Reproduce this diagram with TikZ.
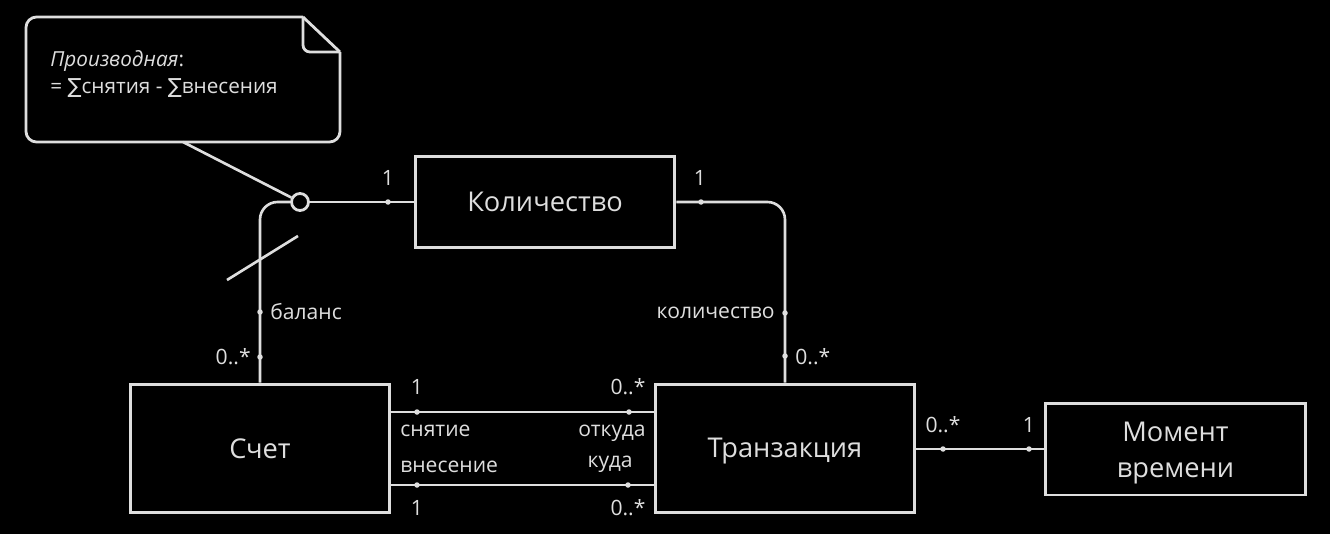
\documentclass[tikz,border=0pt]{standalone}
\usepackage{fontspec}
\setmainfont{Open Sans}
\newfontfamily\sumfont{DejaVu Sans}
\usetikzlibrary{positioning}

\definecolor{ink}{HTML}{DEDEDE}

\begin{document}
\begin{tikzpicture}[x=0.02cm, y=-0.02cm,
        cls/.style={draw=ink, line width=1.7pt, fill=black, text=ink, minimum width=5.2cm, align=center, font=\fontsize{15.5}{20.5}\selectfont},
        link/.style={draw=ink, line width=1.5pt},
        lbl/.style={text=ink, inner sep=0pt, font=\fontsize{12}{14}\selectfont}]
        % Background
        \fill[black] (0,0) rectangle (1330,534);
        \useasboundingbox (0,0) rectangle (1330,534);

        % Note
        \draw[ink, line width=1.6pt, rounded corners=6] (303,17) -- (26,17) -- (26,142) -- (340,142) -- (340,52);
        \draw[ink, line width=1.6pt] (303,17) -- (340,52);
        \draw[ink, line width=1.6pt, rounded corners=4] (303,17) -- (303,52) -- (340,52);
        \node[lbl, anchor=base west, align=left, font=\fontsize{11.8}{15.3}\selectfont] (notetxt) at (50,93)
            {\textit{Производная}:\\= {\sumfont∑}снятия - {\sumfont∑}внесения};
        \coordinate (notefoot) at (183,142);

        % Classes
        \node[cls, minimum height=2.58cm] (schet) at (260,448.5) {Счет};
        \node[cls, minimum height=2.58cm] (tran) at (785,448.5) {\rule{0pt}{0.5cm}Транзакция};
        \node[cls, minimum height=1.82cm] (kol) at (545,202) {Количество};
        \node[cls, minimum width=5.22cm, minimum height=1.84cm] (mom) at (1175.5,449) {\rule{0pt}{0.55cm}Момент\\времени};

        % Derived attribute
        \node[circle, draw=ink, line width=1.6pt, fill=black, minimum size=0.34cm, inner sep=0pt] (der) at (300,202) {};

        % Associations
        \draw[link] (notefoot) -- (der);
        \draw[link, rounded corners=10] (der.west) -| (schet.north);
        \draw[link] (der) -- (kol);
        \draw[link, rounded corners=10] (kol.east) -| (tran.north);
        \draw[link] ([yshift=0.73cm]schet.east) -- ([yshift=0.73cm]tran.west);
        \draw[link] ([yshift=-0.73cm]schet.east) -- ([yshift=-0.73cm]tran.west);
        \draw[link] (tran.east |- mom.west) -- (mom.west);
        \draw[link] (227,280) -- (298,236);

        % Association ends
        \foreach \x/\y in {388/202, 701/202, 260/312, 260/357, 785/313, 785/356,
                417/412, 629/412, 417/485, 628/485, 943/449, 1029/449}
            \fill[ink] (\x,\y) circle (0.055cm);

        % Multiplicities and roles
        \node[lbl] (m1) at (388,178) {1};
        \node[lbl] (m2) at (700,178) {1};
        \node[lbl, anchor=west] (bal) at (270,312) {баланс};
        \node[lbl, anchor=east] (m3) at (251,357) {0..*};
        \node[lbl, anchor=east] (qty) at (775,313) {количество};
        \node[lbl, anchor=west] (m4) at (795,357) {0..*};
        \node[lbl] (m5) at (417,387) {1};
        \node[lbl] (m6) at (628,387) {0..*};
        \node[lbl, anchor=base west] (wd) at (400,436) {снятие};
        \node[lbl, anchor=base east] (src) at (646,436) {откуда};
        \node[lbl, anchor=base west] (dep) at (400,472) {внесение};
        \node[lbl, anchor=base east] (dst) at (633,467) {куда};
        \node[lbl] (m7) at (417,508) {1};
        \node[lbl] (m8) at (628,508) {0..*};
        \node[lbl] (m9) at (943,425) {0..*};
        \node[lbl] (m10) at (1029,425) {1};
    \end{tikzpicture}
\end{document}
